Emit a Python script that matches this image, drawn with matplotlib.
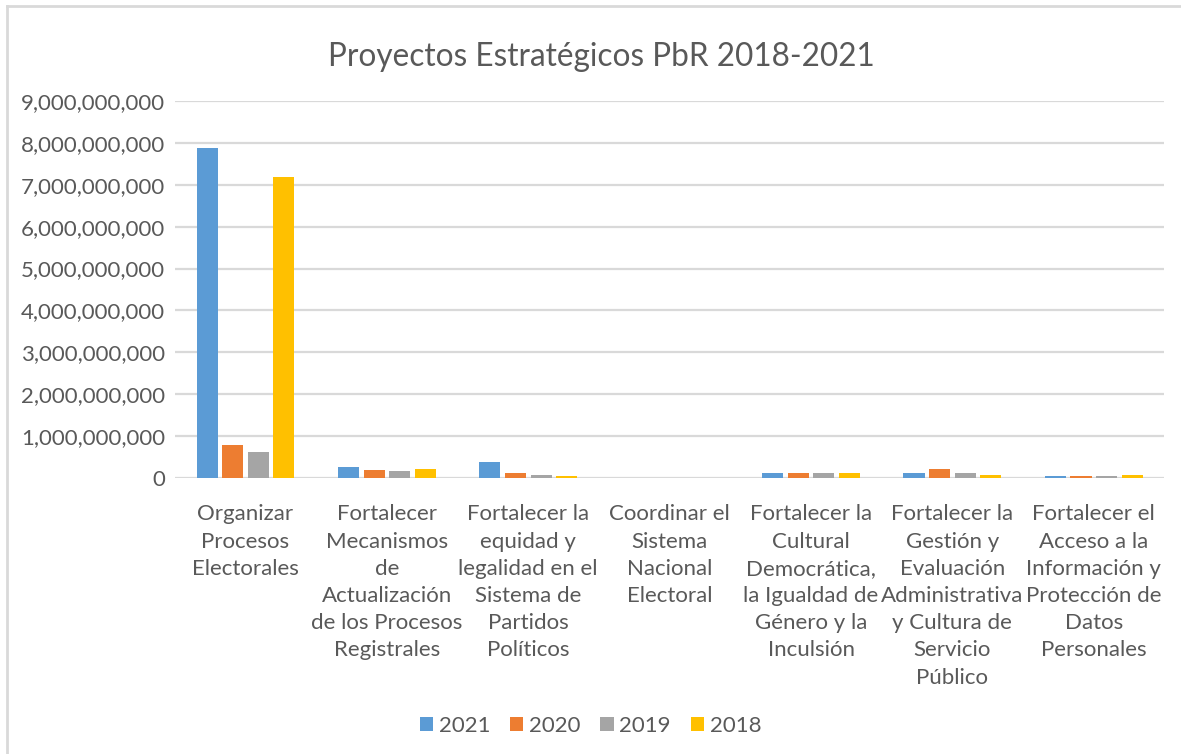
import numpy as np
import matplotlib.pyplot as plt
from matplotlib.lines import Line2D
from matplotlib.ticker import FuncFormatter

plt.rcParams['font.family'] = ['Lato', 'DejaVu Sans']

CATEGORIES = [
    "Organizar\nProcesos\nElectorales",
    "Fortalecer\nMecanismos\nde\nActualización\nde los Procesos\nRegistrales",
    "Fortalecer la\nequidad y\nlegalidad en el\nSistema de\nPartidos\nPolíticos",
    "Coordinar el\nSistema\nNacional\nElectoral",
    "Fortalecer la\nCultural\nDemocrática,\nla Igualdad de\nGénero y la\nInculsión",
    "Fortalecer la\nGestión y\nEvaluación\nAdministrativa\ny Cultura de\nServicio\nPúblico",
    "Fortalecer el\nAcceso a la\nInformación y\nProtección de\nDatos\nPersonales",
]

YEARS = ["2021", "2020", "2019", "2018"]

v2021 = [7.89e9, 0.27e9, 0.39e9, 0, 0.13e9, 0.13e9, 0.04e9]
v2020 = [0.78e9, 0.18e9, 0.13e9, 0, 0.13e9, 0.22e9, 0.04e9]
v2019 = [0.62e9, 0.16e9, 0.07e9, 0, 0.11e9, 0.13e9, 0.04e9]
v2018 = [7.18e9, 0.22e9, 0.04e9, 0, 0.13e9, 0.08e9, 0.08e9]

COLORS = ["#5B9BD5", "#ED7D31", "#A5A5A5", "#FFC000"]
TEXT = "#595959"
GRID = "#D9D9D9"

fig = plt.figure(figsize=(11.81, 7.54), dpi=100)
ax = fig.add_axes([0.148, 0.366, 0.838, 0.5])

x = np.arange(len(CATEGORIES))
step = 0.181
width = 0.149

for i, (vals, col) in enumerate(zip([v2021, v2020, v2019, v2018], COLORS)):
    ax.bar(x + (i - 1.5) * step, vals, width=width, color=col, label=YEARS[i], zorder=3)

ax.set_xlim(-0.5, len(CATEGORIES) - 0.5)
ax.set_ylim(0, 9e9)
ax.set_yticks(np.arange(0, 9.5e9, 1e9))
ax.yaxis.set_major_formatter(FuncFormatter(lambda v, p: f"{v:,.0f}"))
ax.grid(axis="y", color=GRID, linewidth=1.6, zorder=0)
ax.set_axisbelow(True)
for s in ax.spines.values():
    s.set_visible(False)
ax.tick_params(axis="both", length=0, labelsize=16, labelcolor=TEXT)
ax.tick_params(axis="y", pad=7)
ax.tick_params(axis="x", pad=19)
ax.set_xticks(x)
ax.set_xticklabels(CATEGORIES, linespacing=1.45, va="top")

fig.text(0.509, 0.924, "Proyectos Estratégicos PbR 2018-2021", ha="center", va="center",
         fontsize=22.7, color=TEXT)

fig.legend(loc="center", bbox_to_anchor=(0.5, 0.037), ncol=4, frameon=False,
           fontsize=16, handlelength=0.6, handleheight=0.6, handletextpad=0.25,
           columnspacing=0.9, labelcolor=TEXT)

# borde del gráfico (solo arriba e izquierda se ven en la imagen)
fig.add_artist(Line2D([7 / 1181, 1.0], [1 - 6 / 754, 1 - 6 / 754], transform=fig.transFigure,
                      color=GRID, linewidth=2))
fig.add_artist(Line2D([7 / 1181, 7 / 1181], [0.0, 1 - 6 / 754], transform=fig.transFigure,
                      color=GRID, linewidth=2))

fig.savefig("out.png", dpi=100)
